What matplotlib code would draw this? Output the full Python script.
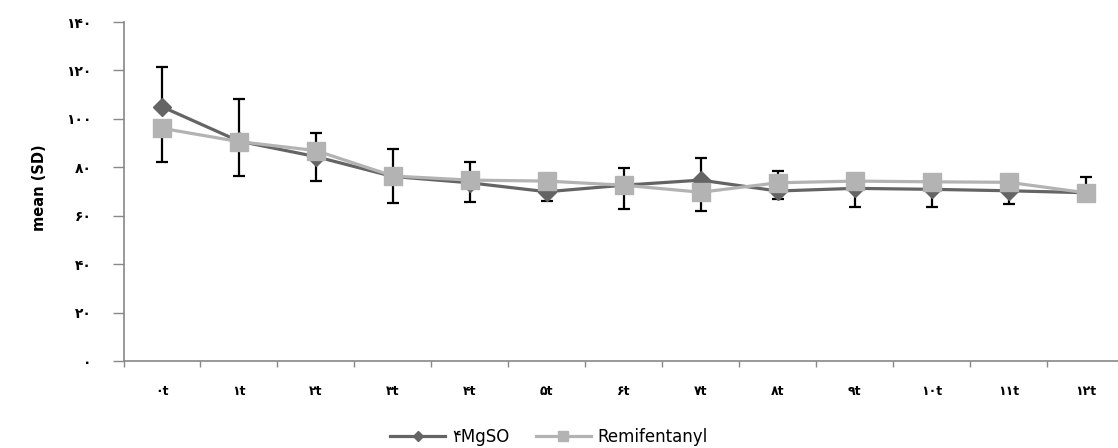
import numpy as np
import matplotlib
matplotlib.use("Agg")
import matplotlib.pyplot as plt

plt.rcParams['font.family'] = ['DejaVu Sans']

# time points (labels as shown, Persian digits)
fa = "۰۱۲۳۴۵۶۷۸۹"
def fa_num(n):
    return "".join(fa[int(c)] for c in str(n))

times = [fa_num(i) + "t" for i in range(13)]

mg_mean = [105.0, 90.8, 84.4, 76.2, 73.6, 69.9, 72.6, 74.7, 70.2, 71.3, 70.9, 70.3, 69.5]
mg_sd_up = [16.5, 17.2, 9.6, 11.4, 8.7, 4.0, 7.2, 9.0, 8.4, 3.0, 3.0, 3.0, 6.6]

remi_mean = [96.1, 90.6, 86.9, 76.4, 74.7, 74.3, 72.6, 69.7, 73.6, 74.3, 74.0, 73.8, 69.5]
remi_sd_down = [14.0, 14.2, 12.6, 11.0, 9.2, 8.3, 10.0, 7.6, 6.8, 10.6, 10.3, 9.0, 1.5]

yticks = [0, 20, 40, 60, 80, 100, 120, 140]

x = np.arange(len(times))
zeros = np.zeros(len(times))

fig = plt.figure(figsize=(11.18, 4.48), dpi=100)
# axis runs a little past the right edge, like the original
ax = fig.add_axes([123.5/1118, 87/448, (1124-123.5)/1118, 339/448])

ax.errorbar(x, mg_mean, yerr=[zeros, mg_sd_up], fmt='none', ecolor='black',
            elinewidth=1.6, capsize=4.5, capthick=1.6, zorder=1.5)
ax.errorbar(x, remi_mean, yerr=[remi_sd_down, zeros], fmt='none', ecolor='black',
            elinewidth=1.6, capsize=4.5, capthick=1.6, zorder=1.5)

ax.plot(x, mg_mean, color='#646464', lw=2.3, marker='D', markersize=9,
        label="۴MgSO", zorder=2)
ax.plot(x, remi_mean, color='#b3b3b3', lw=2.3, marker='s', markersize=13,
        label="Remifentanyl", zorder=3)

ax.set_xlim(-0.5, len(times) - 0.5)
ax.set_ylim(0, 140)
ax.set_xticks(np.arange(len(times) + 1) - 0.5)
ax.set_xticklabels([])
ax.set_xticks(x, minor=True)
ax.set_xticklabels(times, minor=True, fontsize=9, fontweight='bold')
ax.tick_params(axis='x', which='minor', length=0, pad=17)
ax.tick_params(axis='x', which='major', length=4, width=1, color='#888888', direction='out')

ax.set_yticks(yticks)
ax.set_yticklabels([fa_num(v) for v in yticks], fontsize=10, fontweight='bold')
ax.tick_params(axis='y', length=8, width=1, color='#888888', pad=15)

for side in ['top', 'right']:
    ax.spines[side].set_visible(False)
for side in ['left', 'bottom']:
    ax.spines[side].set_color('#888888')
    ax.spines[side].set_linewidth(1.2)

fig.text(40/1118, 1 - 188/448, "mean (SD)", rotation=90, ha='center', va='center',
         fontsize=10.5, fontweight='bold')

fig.legend(loc='center', bbox_to_anchor=(549/1118, 1 - 437/448), ncol=2,
           frameon=False, fontsize=12, handlelength=3.3, columnspacing=1.6,
           handletextpad=0.4, markerscale=0.6)

fig.savefig("out.png", dpi=100)
